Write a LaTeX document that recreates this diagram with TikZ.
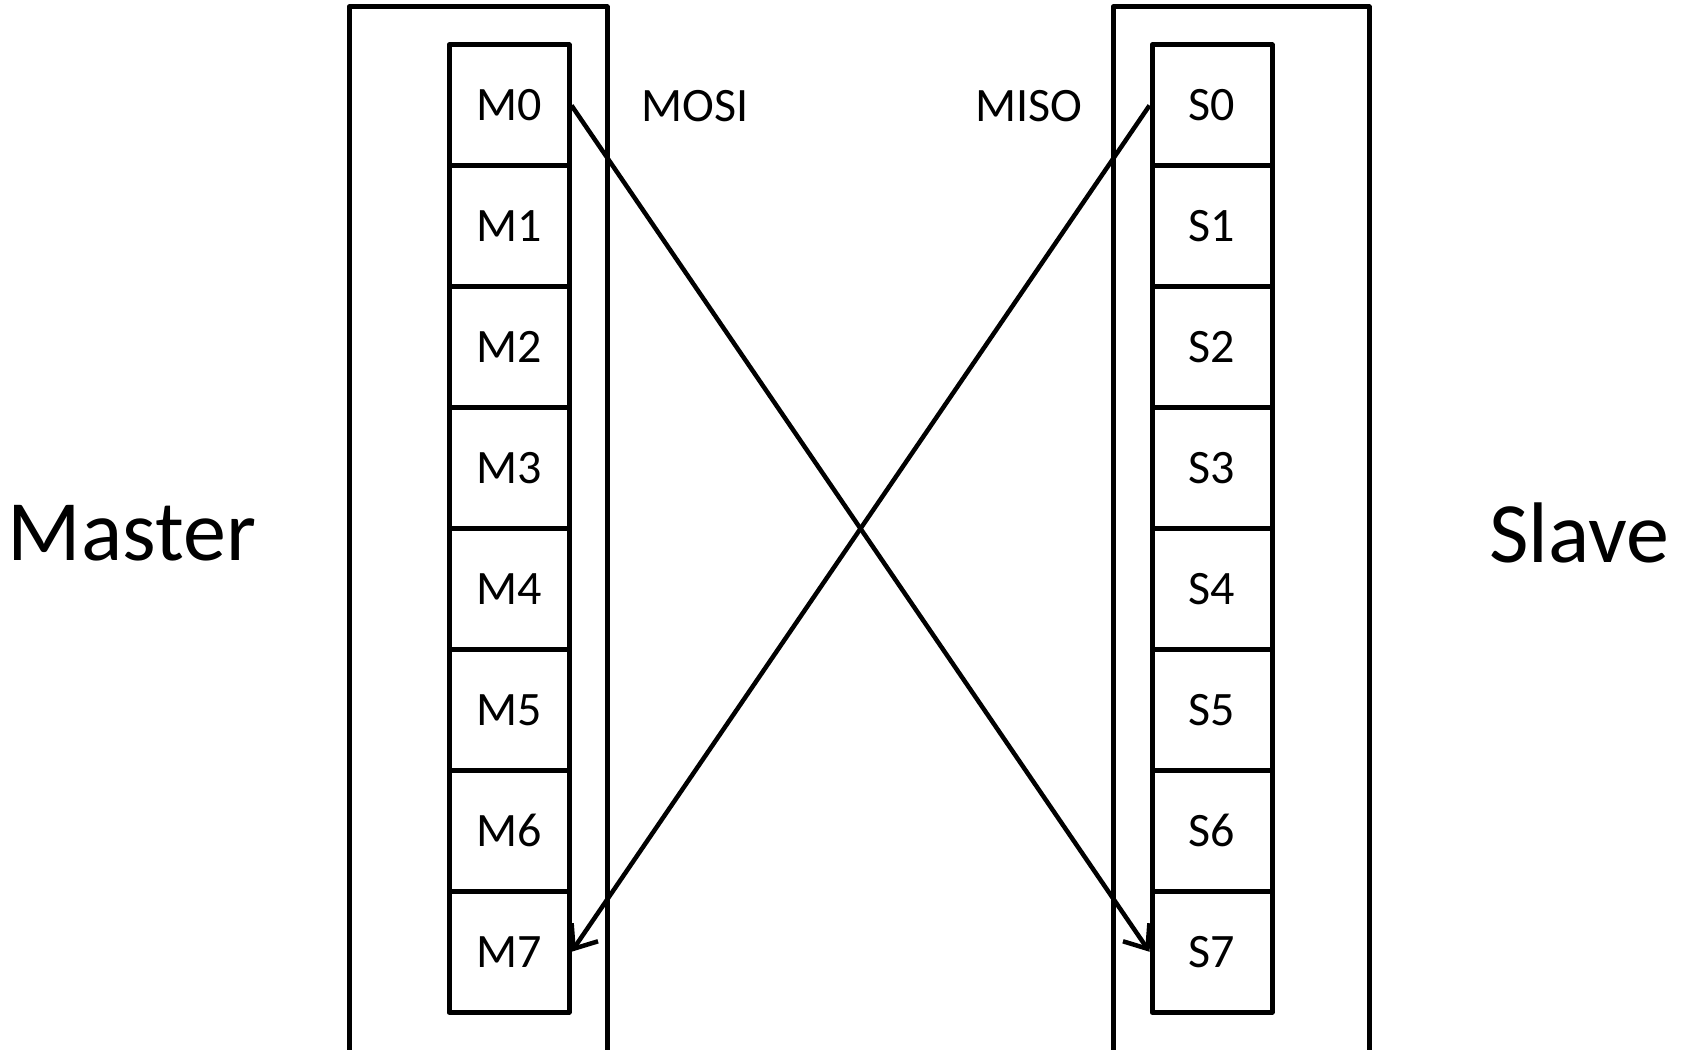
\documentclass[tikz,border=0pt]{standalone}
\usepackage{fontspec}
\setmainfont{Carlito}
\usetikzlibrary{arrows.meta}
\begin{document}
\begin{tikzpicture}[x=1pt,y=-1pt,
  line width=5pt, line join=round,
  cell/.style={draw, minimum width=120pt, minimum height=120.9pt, inner sep=0pt,
    font=\fontsize{48}{54}\selectfont},
  sig/.style={font=\fontsize{48}{54}\selectfont},
  side/.style={font=\fontsize{86}{96}\selectfont},
  link/.style={line width=4.5pt, -{Straight Barb[length=20pt,width=32pt,line width=4.5pt]}}]
  \useasboundingbox (0,0) rectangle (1688,1049);
  % outer frames, running off the bottom edge
  \draw (349,1060) -- (349,7) -- (607,7) -- (607,1060);
  \draw (1113,1060) -- (1113,7) -- (1369,7) -- (1369,1060);
  % shift-register cells
  \foreach \i in {0,...,7}{
    \node[cell] (m\i) at (509,{45+120.9*\i+60.45}) {M\i};
    \node[cell] (s\i) at (1212,{45+120.9*\i+60.45}) {S\i};
  }
  % signal labels
  \node[sig] (mosi) at (695,106) {MOSI};
  \node[sig] (miso) at (1029,106) {MISO};
  % side labels
  \node[side] (master) at (132,533) {Master};
  \node[side] (slave) at (1579,533) {Slave};
  % data lines
  \draw[link] (m0.east) -- (s7.west);
  \draw[link] (s0.west) -- (m7.east);
\end{tikzpicture}
\end{document}
